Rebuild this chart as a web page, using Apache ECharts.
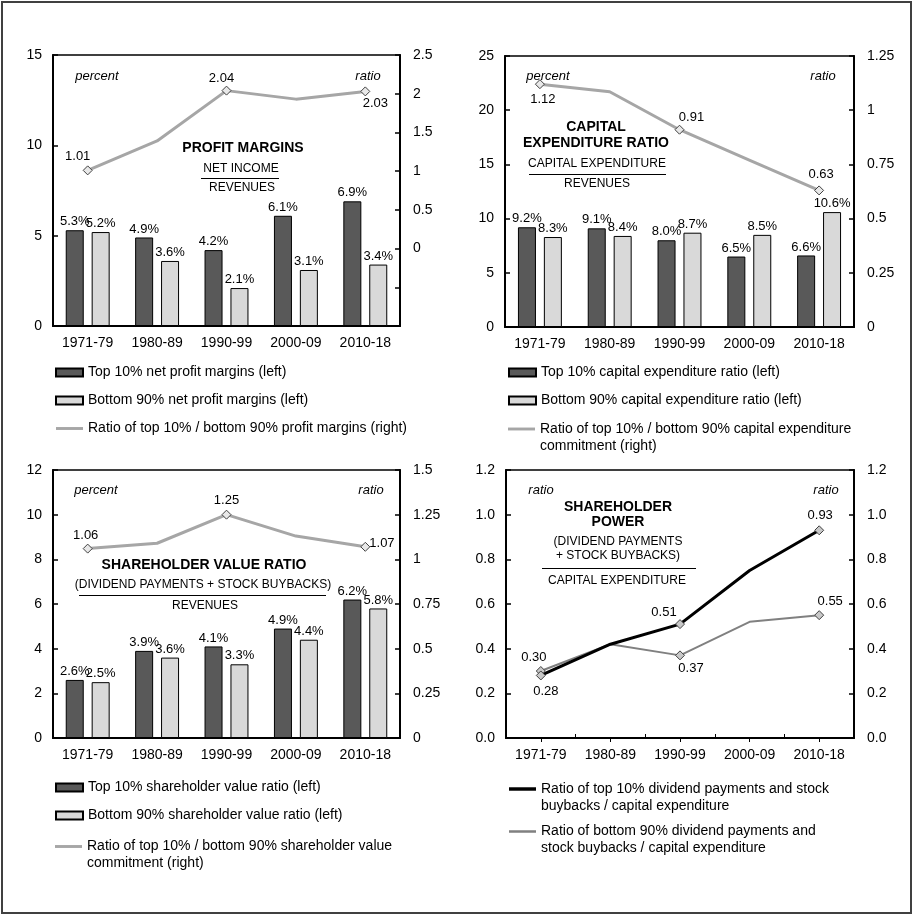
<!DOCTYPE html>
<html>
<head>
<meta charset="utf-8">
<script src="https://cdn.jsdelivr.net/npm/echarts@6/dist/echarts.min.js"></script>
<style>
html,body{margin:0;padding:0;background:#fff;}
#c{width:914px;height:916px;}
</style>
</head>
<body>
<div id="c"></div>
<script>
// ---- data ----
const categories = ['1971-79', '1980-89', '1990-99', '2000-09', '2010-18'];
const profitTop = [5.3, 4.9, 4.2, 6.1, 6.9];
const profitBottom = [5.2, 3.6, 2.1, 3.1, 3.4];
const profitRatio = [1.01, 1.39, 2.04, 1.93, 2.03];
const capexTop = [9.2, 9.1, 8.0, 6.5, 6.6];
const capexBottom = [8.3, 8.4, 8.7, 8.5, 10.6];
const capexRatio = [1.12, 1.085, 0.91, 0.77, 0.63];
const shvTop = [2.6, 3.9, 4.1, 4.9, 6.2];
const shvBottom = [2.5, 3.6, 3.3, 4.4, 5.8];
const shvRatio = [1.06, 1.09, 1.25, 1.13, 1.07];
const powerTop = [0.28, 0.42, 0.51, 0.75, 0.93];
const powerBottom = [0.30, 0.42, 0.37, 0.52, 0.55];
const leftTicks1 = [0, 15, 5];   // min, max, interval
const rightTicks1 = [-1, 2.5, 0.5];
const leftTicks2 = [0, 25, 5];
const rightTicks2 = [0, 1.25, 0.25];
const leftTicks3 = [0, 12, 2];
const rightTicks3 = [0, 1.5, 0.25];
const ticks4 = [0, 1.2, 0.2];

const names = {
  p1: 'Top 10% net profit margins (left)',
  p2: 'Bottom 90% net profit margins (left)',
  p3: 'Ratio of top 10% / bottom 90% profit margins (right)',
  c1: 'Top 10% capital expenditure ratio (left)',
  c2: 'Bottom 90% capital expenditure ratio (left)',
  c3: 'Ratio of top 10% / bottom 90% capital expenditure\ncommitment (right)',
  s1: 'Top 10% shareholder value ratio (left)',
  s2: 'Bottom 90% shareholder value ratio (left)',
  s3: 'Ratio of top 10% / bottom 90% shareholder value\ncommitment (right)',
  w1: 'Ratio of top 10% dividend payments and stock\nbuybacks / capital expenditure',
  w2: 'Ratio of bottom 90% dividend payments and\nstock buybacks / capital expenditure'
};

// ---- styling helpers ----
const FF = 'Liberation Sans, Arial, sans-serif';
const DARK = '#595959', LIGHT = '#d9d9d9', RLINE = '#a6a6a6';
const LINE_ICON = 'path://M0,0L28,0L28,3L0,3Z';
const THICK_ICON = 'path://M0,0L28,0L28,3.6L0,3.6Z';
const THIN_ICON = 'path://M0,0L28,0L28,2.6L0,2.6Z';

function lineData(values, marks, markFill) {
  return values.map((v, i) => {
    const m = marks[i];
    if (!m) return { value: v, symbol: 'none' };
    return {
      value: v,
      symbol: 'diamond',
      symbolSize: 9,
      itemStyle: { color: markFill, borderColor: '#404040', borderWidth: 1 },
      label: {
        show: true, position: m.pos, offset: m.off || [0, 0], distance: 4,
        formatter: (p) => Number(p.value).toFixed(2),
        fontSize: 13, fontFamily: FF, color: '#000'
      }
    };
  });
}

function barSeries(name, data, color, xi, yi) {
  return {
    type: 'bar', name, data, xAxisIndex: xi, yAxisIndex: yi,
    barWidth: 18, barGap: '44%',
    itemStyle: { color, borderColor: '#000', borderWidth: 1 },
    label: { show: true, position: 'top', distance: 2, fontSize: 13, fontFamily: FF, color: '#000',
      formatter: (p) => Number(p.value).toFixed(1) + '%' }
  };
}

function xAx(gi, ticks) {
  return {
    type: 'category', gridIndex: gi, data: categories, boundaryGap: true,
    axisLine: { lineStyle: { color: '#000', width: 2 } },
    axisTick: ticks ? { show: true, inside: true, length: 4, lineStyle: { color: '#000' } } : { show: false },
    axisLabel: { interval: 0, fontSize: 14, fontFamily: FF, color: '#000', margin: 10 },
    splitLine: { show: false }
  };
}

function yAx(gi, t, pos, fmt) {
  return {
    type: 'value', gridIndex: gi, position: pos, min: t[0], max: t[1], interval: t[2],
    axisLine: { show: true, lineStyle: { color: '#000', width: 2 } },
    axisTick: { show: true, inside: true, length: 5, lineStyle: { color: '#000', width: 1.5 } },
    axisLabel: { fontSize: 14, fontFamily: FF, color: '#000', margin: pos === 'left' ? 11 : 13, formatter: fmt },
    splitLine: { show: false }
  };
}

function legend(left, top, data, gap) {
  return {
    orient: 'vertical', left, top, padding: 0, itemGap: gap || 11,
    itemWidth: 27, itemHeight: 8, icon: 'rect', data,
    selectedMode: false,
    // two-line names get an empty leading line so the icon sits beside their first line
    formatter: (n) => (n.indexOf('\n') >= 0 ? '\n' + n : n),
    textStyle: { fontSize: 14, fontFamily: FF, color: '#000', lineHeight: 17 }
  };
}
function legend2(left, top, name, icon) {
  return legend(left, top, [{ name, icon }]);
}

function txt(x, y, text, opt) {
  opt = opt || {};
  return {
    type: 'text', z: 50,
    style: {
      text, x, y, align: 'center', verticalAlign: 'middle',
      fontSize: opt.size || 12, fontWeight: opt.bold ? 'bold' : 'normal',
      fontStyle: opt.italic ? 'italic' : 'normal', fontFamily: FF, fill: '#000'
    }
  };
}
function hline(x1, x2, y) {
  return { type: 'line', z: 50, shape: { x1, y1: y, x2, y2: y }, style: { stroke: '#000', lineWidth: 1 } };
}

const gridBase = { show: true, borderColor: '#000', borderWidth: 1.5, backgroundColor: 'transparent' };

const fmtRight1 = (v) => (v < 0 ? '' : String(v));
const fmt1 = (v) => Number(v).toFixed(1);

const option = {
  backgroundColor: '#fff',
  animation: false,
  grid: [
    Object.assign({ left: 53, top: 55, width: 347, height: 271 }, gridBase),
    Object.assign({ left: 505, top: 56, width: 349, height: 271 }, gridBase),
    Object.assign({ left: 53, top: 470, width: 347, height: 268 }, gridBase),
    Object.assign({ left: 506, top: 470, width: 348, height: 268 }, gridBase)
  ],
  xAxis: [
    xAx(0, false), xAx(1, false), xAx(2, false), xAx(3, true),
    Object.assign(xAx(3, true), {
      axisLabel: { show: false }, axisLine: { show: false },
      axisTick: { show: true, inside: true, length: 4, alignWithLabel: true, lineStyle: { color: '#000' } }
    })
  ],
  yAxis: [
    yAx(0, leftTicks1, 'left'), yAx(0, rightTicks1, 'right', fmtRight1),
    yAx(1, leftTicks2, 'left'), yAx(1, rightTicks2, 'right'),
    yAx(2, leftTicks3, 'left'), yAx(2, rightTicks3, 'right'),
    yAx(3, ticks4, 'left', fmt1), yAx(3, ticks4, 'right', fmt1)
  ],
  legend: [
    legend(55, 364, [names.p1, names.p2, { name: names.p3, icon: LINE_ICON }]),
    legend(508, 364, [names.c1, names.c2]),
    legend2(508, 403.5, names.c3, LINE_ICON),
    legend(55, 779, [names.s1, names.s2]),
    legend2(55, 821, names.s3, LINE_ICON),
    legend2(509, 763.5, names.w1, THICK_ICON),
    legend2(509, 806, names.w2, THIN_ICON)
  ],
  series: [
    barSeries(names.p1, profitTop, DARK, 0, 0),
    barSeries(names.p2, profitBottom, LIGHT, 0, 0),
    { type: 'line', name: names.p3, xAxisIndex: 0, yAxisIndex: 1, symbol: 'none',
      lineStyle: { color: RLINE, width: 3 }, itemStyle: { color: RLINE },
      data: lineData(profitRatio, { 0: { pos: 'top', off: [-10, 2] }, 2: { pos: 'top', off: [-5, 3] }, 4: { pos: 'bottom', off: [10, -3] } }, '#e8e8e8') },

    barSeries(names.c1, capexTop, DARK, 1, 2),
    barSeries(names.c2, capexBottom, LIGHT, 1, 2),
    { type: 'line', name: names.c3, xAxisIndex: 1, yAxisIndex: 3, symbol: 'none',
      lineStyle: { color: RLINE, width: 3 }, itemStyle: { color: RLINE },
      data: lineData(capexRatio, { 0: { pos: 'bottom', off: [3, 0] }, 2: { pos: 'top', off: [12, 3] }, 4: { pos: 'top', off: [2, 0] } }, '#e8e8e8') },

    barSeries(names.s1, shvTop, DARK, 2, 4),
    barSeries(names.s2, shvBottom, LIGHT, 2, 4),
    { type: 'line', name: names.s3, xAxisIndex: 2, yAxisIndex: 5, symbol: 'none',
      lineStyle: { color: RLINE, width: 3 }, itemStyle: { color: RLINE },
      data: lineData(shvRatio, { 0: { pos: 'top', off: [-2, 2] }, 2: { pos: 'top', off: [0, 1] }, 4: { pos: 'right', off: [-5, -3] } }, '#e8e8e8') },

    { type: 'line', name: names.w2, xAxisIndex: 3, yAxisIndex: 6, symbol: 'none',
      lineStyle: { color: '#808080', width: 2 }, itemStyle: { color: '#808080' },
      data: lineData(powerBottom, { 0: { pos: 'top', off: [-7, 2] }, 2: { pos: 'bottom', off: [11, -2] }, 4: { pos: 'top', off: [11, 2] } }, '#c8c8c8') },
    { type: 'line', name: names.w1, xAxisIndex: 3, yAxisIndex: 6, symbol: 'none',
      lineStyle: { color: '#000', width: 3 }, itemStyle: { color: '#000' },
      data: lineData(powerTop, { 0: { pos: 'bottom', off: [5, 0] }, 2: { pos: 'top', off: [-16, 4] }, 4: { pos: 'top', off: [1, 1] } }, '#c8c8c8') }
  ],
  graphic: [
    { type: 'rect', z: 0, shape: { x: 2, y: 2, width: 909, height: 911 }, style: { fill: 'none', stroke: '#404040', lineWidth: 2 } },
    // panel 1
    txt(97, 76, 'percent', { size: 13, italic: true }),
    txt(368, 76, 'ratio', { size: 13, italic: true }),
    txt(243, 148, 'PROFIT MARGINS', { size: 14, bold: true }),
    txt(241, 169, 'NET INCOME'),
    hline(201, 279, 178.5),
    txt(242, 188, 'REVENUES'),
    // panel 2
    txt(548, 76, 'percent', { size: 13, italic: true }),
    txt(823, 76, 'ratio', { size: 13, italic: true }),
    txt(596, 127, 'CAPITAL', { size: 14, bold: true }),
    txt(596, 143, 'EXPENDITURE RATIO', { size: 14, bold: true }),
    txt(597, 164, 'CAPITAL EXPENDITURE'),
    hline(529, 666, 174.5),
    txt(597, 184, 'REVENUES'),
    // panel 3
    txt(96, 490, 'percent', { size: 13, italic: true }),
    txt(371, 490, 'ratio', { size: 13, italic: true }),
    txt(204, 565, 'SHAREHOLDER VALUE RATIO', { size: 14, bold: true }),
    txt(203, 585, '(DIVIDEND PAYMENTS + STOCK BUYBACKS)'),
    hline(79, 326, 595.5),
    txt(205, 606, 'REVENUES'),
    // panel 4
    txt(541, 490, 'ratio', { size: 13, italic: true }),
    txt(826, 490, 'ratio', { size: 13, italic: true }),
    txt(618, 507, 'SHAREHOLDER', { size: 14, bold: true }),
    txt(618, 522, 'POWER', { size: 14, bold: true }),
    txt(618, 542, '(DIVIDEND PAYMENTS'),
    txt(618, 556, '+ STOCK BUYBACKS)'),
    hline(542, 696, 568.5),
    txt(617, 581, 'CAPITAL EXPENDITURE')
  ]
};

const chart = echarts.init(document.getElementById('c'), null, { renderer: 'canvas' });
chart.setOption(option);
</script>
</body>
</html>
